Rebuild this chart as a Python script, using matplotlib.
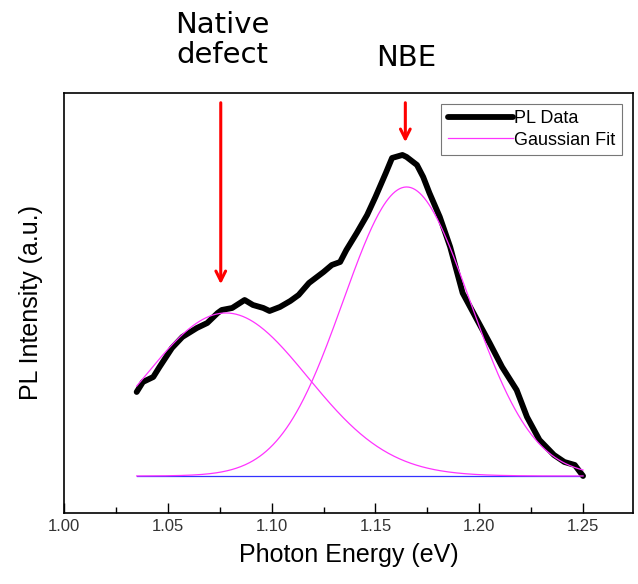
import numpy as np
import matplotlib
matplotlib.use("Agg")
import matplotlib.pyplot as plt

# PL data (photon energy in eV, intensity in a.u.)
energy = [1.035, 1.038, 1.043, 1.046, 1.052, 1.057, 1.064, 1.069, 1.074, 1.076,
          1.081, 1.087, 1.091, 1.096, 1.099, 1.104, 1.109, 1.113, 1.118, 1.125,
          1.129, 1.133, 1.136, 1.141, 1.146, 1.150, 1.155, 1.158, 1.163, 1.165,
          1.170, 1.173, 1.176, 1.181, 1.186, 1.189, 1.192, 1.199, 1.205, 1.211,
          1.218, 1.223, 1.229, 1.236, 1.241, 1.246, 1.250]
pl_intensity = [0.84, 0.94, 0.99, 1.09, 1.28, 1.39, 1.48, 1.53, 1.63, 1.66,
                1.68, 1.76, 1.71, 1.68, 1.65, 1.69, 1.75, 1.81, 1.93, 2.04,
                2.11, 2.14, 2.26, 2.43, 2.61, 2.79, 3.03, 3.18, 3.21, 3.19,
                3.11, 2.99, 2.83, 2.59, 2.29, 2.06, 1.83, 1.56, 1.33, 1.09,
                0.86, 0.59, 0.36, 0.21, 0.14, 0.11, 0.00]

# Gaussian fit parameters: center (eV), sigma (eV), amplitude (a.u.)
fit_centers = [1.078, 1.165]
fit_sigmas = [0.0394, 0.0305]
fit_amplitudes = [1.63, 2.89]
fit_range = [1.035, 1.25]
baseline = 0.0

xticks = [1.00, 1.05, 1.10, 1.15, 1.20, 1.25]
xtick_labels = ["1.00", "1.05", "1.10", "1.15", "1.20", "1.25"]

fig = plt.figure(figsize=(6.38, 5.84), dpi=100)
ax = fig.add_axes([0.1003, 0.1216, 0.8917, 0.7192])

sans = ["Liberation Sans", "DejaVu Sans"]

ax.plot(energy, pl_intensity, color="black", lw=4.2, solid_joinstyle="round",
        solid_capstyle="round", label="PL Data", zorder=3)

xf = np.linspace(fit_range[0], fit_range[1], 400)
for i, (c, s, a) in enumerate(zip(fit_centers, fit_sigmas, fit_amplitudes)):
    ax.plot(xf, baseline + a * np.exp(-(xf - c) ** 2 / (2 * s ** 2)),
            color="#ff33ff", lw=0.9, zorder=4,
            label="Gaussian Fit" if i == 0 else None)
ax.plot(fit_range, [baseline, baseline], color="#3333ff", lw=0.9, zorder=2)

ax.set_xlim(1.00, 1.274)
ax.set_ylim(-0.37, 3.83)
ax.set_xticks(xticks)
ax.set_xticklabels(xtick_labels, fontfamily=sans, fontsize=12, color="#333333")
ax.set_xticks(np.arange(1.025, 1.26, 0.05), minor=True)
ax.tick_params(axis="x", which="major", direction="in", length=7, width=1, pad=4)
ax.tick_params(axis="x", which="minor", direction="in", length=4, width=1)
ax.set_yticks([])
for sp in ax.spines.values():
    sp.set_linewidth(1.2)

ax.set_xlabel("Photon Energy (eV)", fontfamily=sans, fontsize=18, labelpad=7)
ax.set_ylabel("PL Intensity (a.u.)", fontfamily=sans, fontsize=18, labelpad=15)

leg = ax.legend(loc="upper right", prop={"family": sans, "size": 13},
                frameon=True, fancybox=False, edgecolor="#555555",
                handlelength=3.6, handletextpad=0.1, borderpad=0.35,
                labelspacing=0.25, borderaxespad=0.6)
leg.get_frame().set_linewidth(0.8)

# Annotation arrows
ax.annotate("", xy=(1.0755, 1.89), xytext=(1.0755, 3.76),
            arrowprops=dict(arrowstyle="->,head_length=0.7,head_width=0.35",
                            color="red", lw=2.2), annotation_clip=False)
ax.annotate("", xy=(1.1644, 3.31), xytext=(1.1644, 3.76),
            arrowprops=dict(arrowstyle="->,head_length=0.7,head_width=0.35",
                            color="red", lw=2.2), annotation_clip=False)

fig.text(222 / 638, 1 - 40 / 584, "Native\ndefect", ha="center", va="center",
         fontsize=21, family="DejaVu Sans", linespacing=1.1)
fig.text(406 / 638, 1 - 58 / 584, "NBE", ha="center", va="center",
         fontsize=21, family="DejaVu Sans")

fig.savefig("out.png", dpi=100)
